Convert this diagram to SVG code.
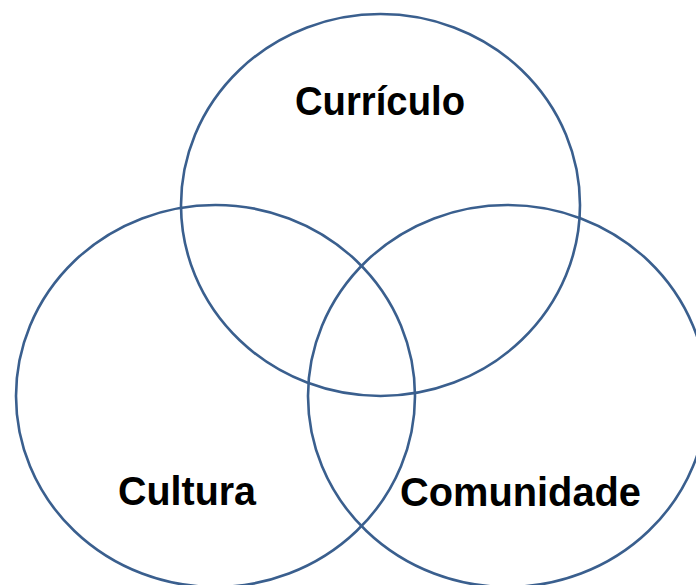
<svg xmlns="http://www.w3.org/2000/svg" width="696" height="585" viewBox="0 0 696 585">
  <style>
    .ring { fill: none; stroke: #3A5F8E; stroke-width: 2.6; }
    .lbl { font-family: "Liberation Sans", Arial, sans-serif; font-weight: bold; font-size: 41px; fill: #000000; }
  </style>
  <rect x="0" y="0" width="696" height="585" fill="#FFFFFF"/>
  <g id="curriculo">
    <ellipse class="ring" cx="380.5" cy="205" rx="199.5" ry="191"/>
    <text class="lbl" x="295" y="115" textLength="170" lengthAdjust="spacingAndGlyphs">Currículo</text>
  </g>
  <g id="cultura">
    <ellipse class="ring" cx="215.5" cy="396" rx="199.5" ry="191"/>
    <text class="lbl" x="118" y="505" textLength="138" lengthAdjust="spacingAndGlyphs">Cultura</text>
  </g>
  <g id="comunidade">
    <ellipse class="ring" cx="507.5" cy="396" rx="199.5" ry="191"/>
    <text class="lbl" x="400" y="506" textLength="241" lengthAdjust="spacingAndGlyphs">Comunidade</text>
  </g>
  <g id="connectors"></g>
</svg>
